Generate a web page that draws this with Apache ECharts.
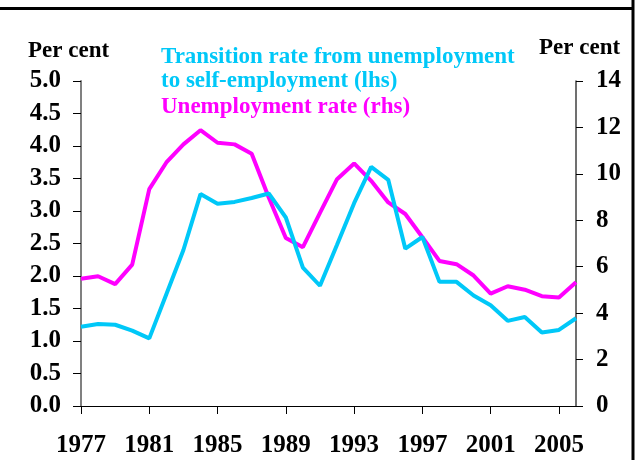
<!DOCTYPE html>
<html>
<head>
<meta charset="utf-8">
<script src="https://cdn.jsdelivr.net/npm/echarts@6/dist/echarts.min.js"></script>
<style>
  html, body { margin: 0; padding: 0; background: #fff; }
  #main { width: 641px; height: 460px; }
</style>
</head>
<body>
<div id="main"></div>
<script>
var years = [];
for (var y = 1977; y <= 2006; y++) years.push(String(y));

// transition rate from unemployment to self-employment, per cent (lhs)
var transitionRate = [1.22, 1.26, 1.25, 1.16, 1.04, 1.72, 2.40, 3.26, 3.11, 3.14,
  3.20, 3.27, 2.90, 2.13, 1.85, 2.48, 3.12, 3.68, 3.48, 2.42,
  2.60, 1.91, 1.91, 1.70, 1.55, 1.31, 1.37, 1.13, 1.17, 1.35];

// unemployment rate, per cent (rhs)
var unemploymentRate = [5.48, 5.59, 5.25, 6.09, 9.34, 10.49, 11.27, 11.88, 11.34, 11.27,
  10.87, 8.98, 7.24, 6.84, 8.32, 9.77, 10.45, 9.70, 8.77, 8.27,
  7.27, 6.25, 6.11, 5.62, 4.84, 5.16, 5.01, 4.73, 4.67, 5.33];

var serif = 'Liberation Serif';
var cyan = '#00c8f8';
var magenta = '#ff00ff';

var myChart = echarts.init(document.getElementById('main'));

var option = {
  backgroundColor: '#fff',
  animation: false,
  textStyle: { fontFamily: serif },
  grid: { left: 81, right: 65, top: 81, bottom: 54 },
  legend: {
    orient: 'vertical',
    left: 151,
    top: 40,
    icon: 'none',
    itemWidth: 0,
    itemGap: 2,
    selectedMode: false,
    textStyle: { fontFamily: serif, fontWeight: 'bold', fontSize: 23, lineHeight: 24 },
    data: [
      { name: 'Transition rate from unemployment to self-employment (lhs)', textStyle: { color: cyan } },
      { name: 'Unemployment rate (rhs)', textStyle: { color: magenta } }
    ],
    formatter: function (name) {
      return name.replace(' to self', '\nto self');
    }
  },
  xAxis: {
    type: 'category',
    data: years,
    boundaryGap: false,
    axisLine: { lineStyle: { color: '#000', width: 1 } },
    axisTick: { interval: 3, length: 8, lineStyle: { color: '#000' } },
    axisLabel: {
      interval: 3, margin: 27, color: '#000',
      fontFamily: serif, fontWeight: 'bold', fontSize: 25
    },
    splitLine: { show: false }
  },
  yAxis: [
    {
      type: 'value',
      min: 0,
      max: 5,
      interval: 0.5,
      axisLine: { show: true, lineStyle: { color: '#808080', width: 2 } },
      axisTick: { show: true, length: 8, lineStyle: { color: '#000' } },
      axisLabel: {
        margin: 20, color: '#000',
        fontFamily: serif, fontWeight: 'bold', fontSize: 25,
        formatter: function (v) { return v.toFixed(1); }
      },
      splitLine: { show: false }
    },
    {
      type: 'value',
      min: 0,
      max: 14,
      interval: 2,
      position: 'right',
      axisLine: { show: true, lineStyle: { color: '#404040', width: 1.5 } },
      axisTick: { show: true, length: 7, lineStyle: { color: '#000' } },
      axisLabel: {
        margin: 20, color: '#000',
        fontFamily: serif, fontWeight: 'bold', fontSize: 25
      },
      splitLine: { show: false }
    }
  ],
  graphic: [
    { type: 'line', shape: { x1: 0, y1: 8.5, x2: 634, y2: 8.5 }, style: { stroke: '#000', lineWidth: 3 } },
    { type: 'line', shape: { x1: 633, y1: 0, x2: 633, y2: 460 }, style: { stroke: '#000', lineWidth: 3 } },
    { type: 'text', left: 28, top: 40, style: { text: 'Per cent', fontFamily: serif, fontWeight: 'bold', fontSize: 23, fill: '#000' } },
    { type: 'text', left: 539, top: 37, style: { text: 'Per cent', fontFamily: serif, fontWeight: 'bold', fontSize: 23, fill: '#000' } }
  ],
  series: [
    {
      name: 'Transition rate from unemployment to self-employment (lhs)',
      type: 'line',
      yAxisIndex: 0,
      showSymbol: false,
      lineStyle: { color: cyan, width: 4 },
      itemStyle: { color: cyan },
      data: transitionRate,
      z: 3
    },
    {
      name: 'Unemployment rate (rhs)',
      type: 'line',
      yAxisIndex: 1,
      showSymbol: false,
      lineStyle: { color: magenta, width: 4 },
      itemStyle: { color: magenta },
      data: unemploymentRate,
      z: 2
    }
  ]
};

myChart.setOption(option);
</script>
</body>
</html>
